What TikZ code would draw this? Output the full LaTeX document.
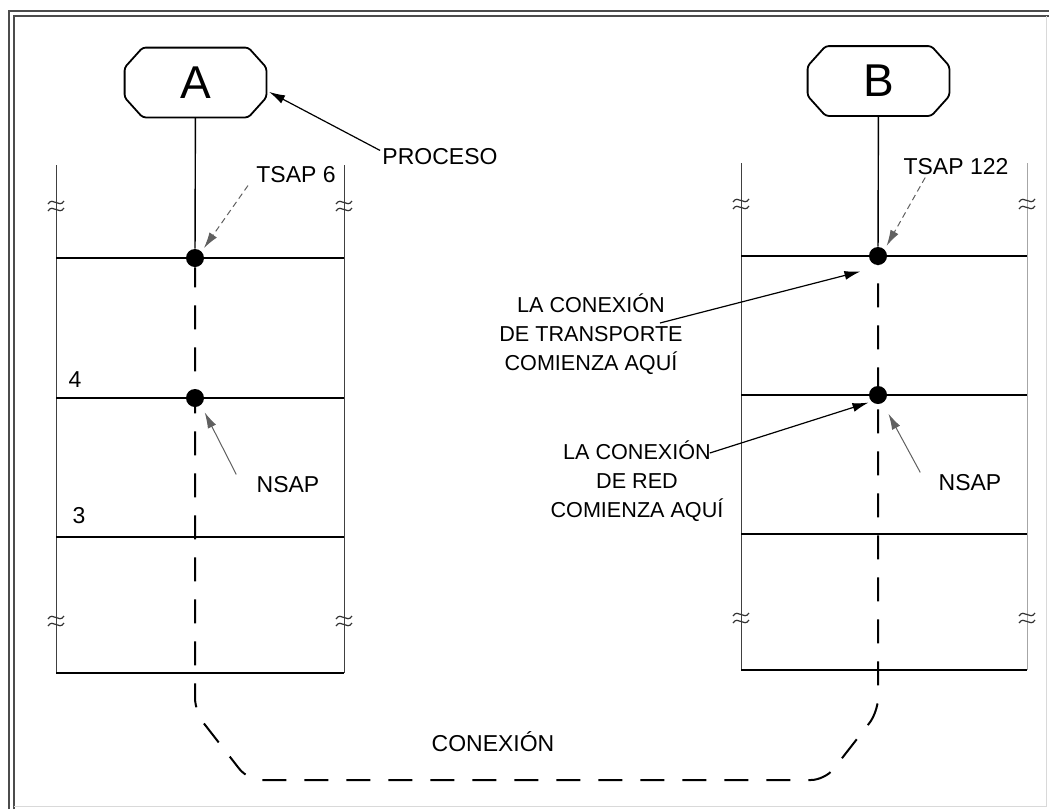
\documentclass[tikz,border=0pt]{standalone}
\usepackage{fontspec}
\setmainfont{Liberation Sans}
\usetikzlibrary{positioning,arrows.meta}

\begin{document}
\begin{tikzpicture}[
  x=0.5pt, y=-0.5pt,
  lbl/.style={font=\fontsize{11.5}{13}\selectfont, inner sep=1pt},
  note/.style={font=\fontsize{10.8}{14.5}\selectfont, align=center, inner sep=1pt},
  procbox/.style={minimum width=70.5pt, minimum height=34.5pt, inner sep=0pt, font=\fontsize{23}{25}\selectfont},
  dotn/.style={circle, fill=black, inner sep=0pt, minimum size=9pt},
  layer/.style={line width=0.6pt},
  side/.style={line width=0.4pt, black!75},
  brk/.style={line width=0.6pt, black!80},
  conn/.style={line width=1pt, dash pattern=on 12pt off 9pt, dash phase=2pt},
  ptr/.style={-{Latex[length=8pt,width=4.5pt]}, line width=0.6pt, shorten >=1.5pt},
  faint/.style={-{Latex[length=8pt,width=4.5pt]}, line width=0.5pt, gray!75!black},
]
\useasboundingbox (0,0) rectangle (1049,809);

% ---- frame ----
\draw[gray!60!black, line width=1.2pt] (9,809) -- (9,11) -- (1049,11);
\draw[gray!60!black, line width=0.8pt] (14,809) -- (14,16) -- (1049,16);
\draw[gray!30, line width=0.5pt] (14,806) -- (1046,806) -- (1046,16);

% ---- LEFT: stack of A ----
\draw[side] (56,165) -- (56,673);
\draw[side] (344,165) -- (344,673);
\draw[layer] (56,258) -- (344,258);
\draw[layer, line width=1pt] (56,398) -- (344,398);
\draw[layer] (56,537) -- (344,537);
\draw[layer] (56,673) -- (344,673);
\node[lbl] (l4) at (75,380) {4};
\node[lbl] (l3) at (79,516) {3};

% ---- RIGHT: stack of B ----
\draw[side] (741,163) -- (741,670);
\draw[side, gray!70] (1027,163) -- (1027,670);
\draw[layer] (741,256) -- (1027,256);
\draw[layer, line width=1pt] (741,395) -- (1027,395);
\draw[layer] (741,534) -- (1027,534);
\draw[layer] (741,670) -- (1027,670);

% ---- break marks ----
\foreach \bx/\by in {56/205, 344/205, 56/620, 344/620, 741/203, 1027/203, 741/617, 1027/617} {
  \draw[brk] (\bx-8,\by-1) .. controls (\bx-3,\by-9) and (\bx+3,\by+4) .. (\bx+8,\by-4);
  \draw[brk] (\bx-8,\by+6) .. controls (\bx-3,\by-2) and (\bx+3,\by+11) .. (\bx+8,\by+3);
}

% ---- processes ----
\node[procbox] (procA) at (195.5,82.5) {A};
\node[procbox] (procB) at (878.5,81) {B};
\foreach \p in {procA,procB}
  \draw[line width=0.9pt, rounded corners=1.5pt]
    ([xshift=9pt]\p.north west) -- ([xshift=-9pt]\p.north east)
    -- ([yshift=-10pt]\p.north east) -- ([yshift=10pt]\p.south east)
    -- ([xshift=-9pt]\p.south east) -- ([xshift=9pt]\p.south west)
    -- ([yshift=10pt]\p.south west) -- ([yshift=-10pt]\p.north west) -- cycle;

% ---- access points ----
\node[dotn] (dotA1) at (195,258) {};
\node[dotn] (dotA2) at (195,398) {};
\node[dotn] (dotB1) at (878,256) {};
\node[dotn] (dotB2) at (878,395) {};
\draw[line width=0.7pt] (procA) -- (dotA1);
\draw[line width=0.7pt] (procB) -- (dotB1);

% ---- connection ----
\draw[conn, rounded corners=7pt] (dotA1) -- (195,712) -- (248,780) -- (825,780) -- (878,712) -- (dotB1);
\node[lbl] (conex) at (493,742) {CONEXIÓN};

% ---- labels ----
\node[lbl] (proceso) at (440,157) {PROCESO};
\draw[ptr] ([yshift=-2pt]proceso.north west) -- ([yshift=-4pt]procA.east);

\node[lbl] (tsap6) at (296,175) {TSAP 6};
\draw[faint, densely dashed, shorten >=2pt] ([xshift=-3pt]tsap6.south west) -- (dotA1.north east);
\node[lbl] (nsapA) at (288,485) {NSAP};
\draw[faint, shorten >=4pt] ([xshift=-9pt]nsapA.north west) -- (dotA2.-50);

\node[lbl] (tsap122) at (956,167) {TSAP 122};
\draw[faint, densely dashed, shorten >=2pt] ([xshift=12pt]tsap122.south west) -- (dotB1.north east);
\node[lbl] (nsapB) at (970,483) {NSAP};
\draw[faint, shorten >=6pt] ([xshift=-8pt]nsapB.north west) -- (dotB2.-60);

\node[note] (transp) at (591,334) {LA CONEXIÓN\\DE TRANSPORTE\\COMIENZA AQUÍ};
\draw[ptr] ([xshift=-12.5pt,yshift=5.5pt]transp.east) -- ([xshift=-4pt,yshift=-4pt]dotB1.south west);
\node[note] (redn) at (637,481) {LA CONEXIÓN\\DE RED\\COMIENZA AQUÍ};
\draw[ptr] ([xshift=-8pt,yshift=14pt]redn.east) -- (dotB2.south west);
\end{tikzpicture}
\end{document}
